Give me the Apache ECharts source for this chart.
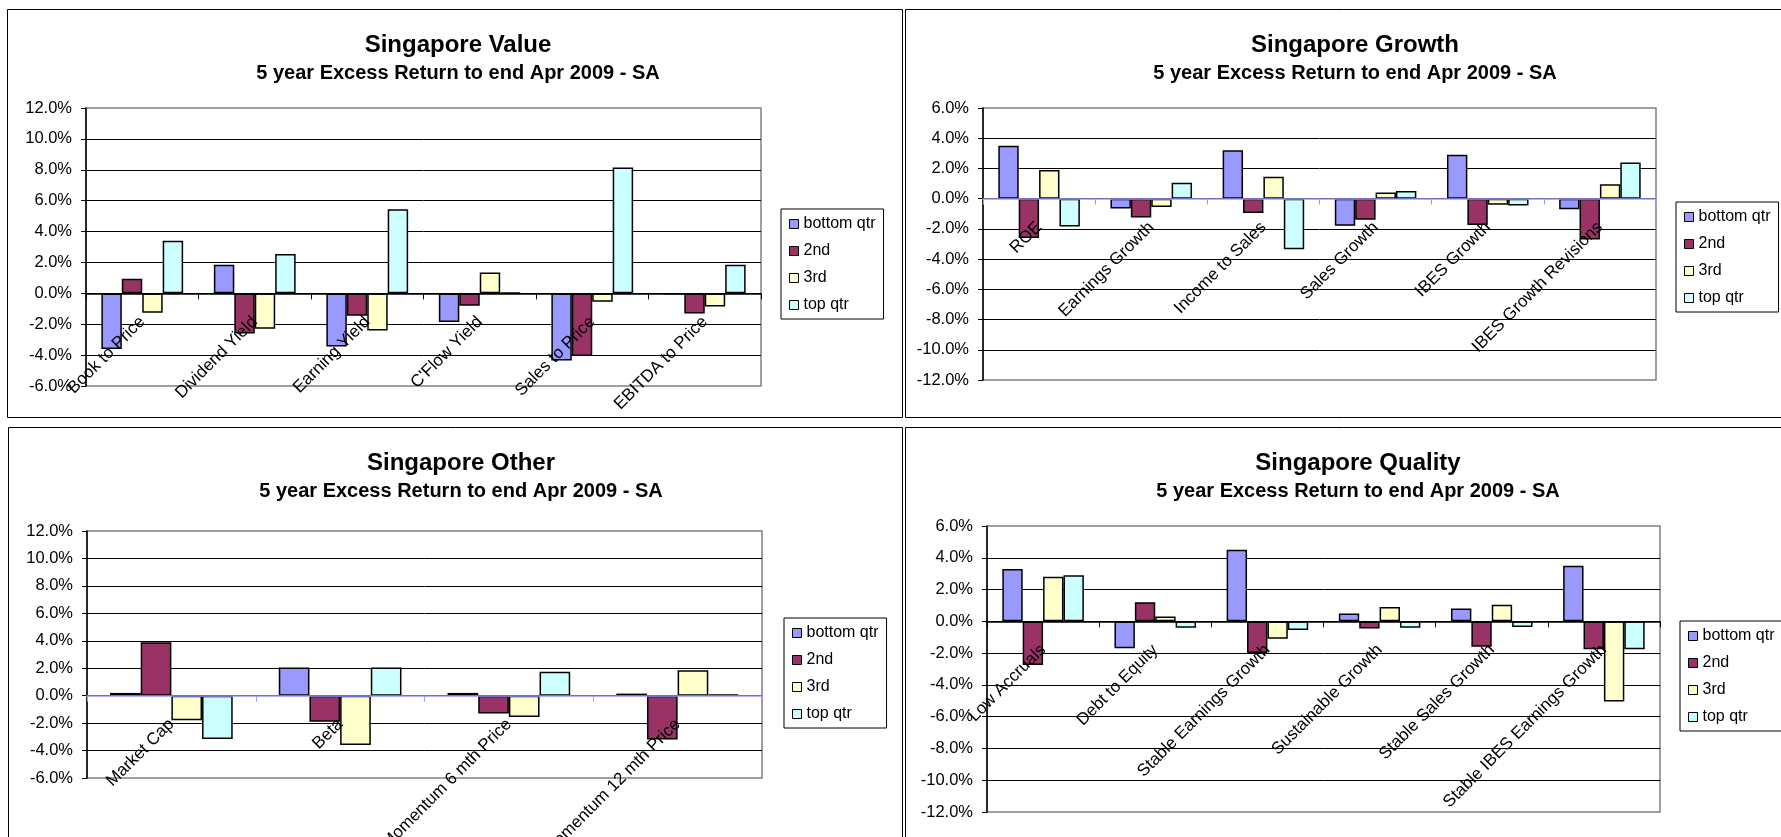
<!DOCTYPE html>
<html>
<head>
<meta charset="utf-8">
<script src="https://cdn.jsdelivr.net/npm/echarts@6/dist/echarts.min.js"></script>
<style>
  html, body { margin: 0; padding: 0; background: #ffffff; }
  #chart { width: 1781px; height: 837px; }
</style>
</head>
<body>
<div id="chart"></div>
<script>
// Quartile series shared by all four panels
const seriesNames = ['bottom qtr', '2nd', '3rd', 'top qtr'];
const seriesColors = ['#9999FF', '#993366', '#FFFFCC', '#CCFFFF'];

// Value factors (excess return, %)
const valueCats = ['Book to Price', 'Dividend Yield', 'Earning Yield', "C'Flow Yield", 'Sales to Price', 'EBITDA to Price'];
const valueBottom = [-3.6, 1.85, -3.45, -1.85, -4.35, -0.05];
const value2nd = [0.95, -2.6, -1.45, -0.8, -4.05, -1.3];
const value3rd = [-1.25, -2.3, -2.4, 1.35, -0.55, -0.85];
const valueTop = [3.4, 2.55, 5.45, 0.05, 8.15, 1.85];

// Growth factors
const growthCats = ['ROE', 'Earnings Growth', 'Income to Sales', 'Sales Growth', 'IBES Growth', 'IBES Growth Revisions'];
const growthBottom = [3.5, -0.65, 3.2, -1.8, 2.9, -0.7];
const growth2nd = [-2.6, -1.25, -0.95, -1.4, -1.75, -2.7];
const growth3rd = [1.9, -0.55, 1.45, 0.4, -0.4, 0.95];
const growthTop = [-1.85, 1.05, -3.35, 0.5, -0.45, 2.4];

// Other factors
const otherCats = ['Market Cap', 'Beta', 'Momentum 6 mth Price', 'Momentum 12 mth Price'];
const otherBottom = [0.2, 2.05, 0.2, 0.15];
const other2nd = [3.9, -1.9, -1.3, -3.2];
const other3rd = [-1.8, -3.6, -1.55, 1.85];
const otherTop = [-3.15, 2.05, 1.75, 0.1];

// Quality factors
const qualityCats = ['Low Accruals', 'Debt to Equity', 'Stable Earnings Growth', 'Sustainable Growth', 'Stable Sales Growth', 'Stable IBES Earnings Growth'];
const qualityBottom = [3.3, -1.7, 4.5, 0.5, 0.8, 3.5];
const quality2nd = [-2.75, 1.2, -2.0, -0.45, -1.6, -1.75];
const quality3rd = [2.8, 0.3, -1.1, 0.9, 1.05, -5.05];
const qualityTop = [2.9, -0.4, -0.55, -0.4, -0.35, -1.75];

const subtitleText = '5 year Excess Return to end Apr 2009 - SA';
const FONT = '"Liberation Sans", Arial, sans-serif';

const panels = [
  {
    title: 'Singapore Value', cats: valueCats,
    values: [valueBottom, value2nd, value3rd, valueTop],
    yMin: -6, yMax: 12, zeroColor: '#000000',
    box: { x: 7, y: 9, w: 895, h: 408 },
    grid: { left: 86, top: 108, width: 675, height: 278 },
    legend: { left: 781, top: 209 },
    titleX: 458, titleTop: 33
  },
  {
    title: 'Singapore Growth', cats: growthCats,
    values: [growthBottom, growth2nd, growth3rd, growthTop],
    yMin: -12, yMax: 6, zeroColor: '#9999FF',
    box: { x: 905, y: 9, w: 900, h: 408 },
    grid: { left: 983, top: 108, width: 673, height: 272 },
    legend: { left: 1676, top: 202 },
    titleX: 1355, titleTop: 33
  },
  {
    title: 'Singapore Other', cats: otherCats,
    values: [otherBottom, other2nd, other3rd, otherTop],
    yMin: -6, yMax: 12, zeroColor: '#9999FF',
    box: { x: 8, y: 427, w: 894, h: 450 },
    grid: { left: 87, top: 531, width: 675, height: 247 },
    legend: { left: 784, top: 618 },
    titleX: 461, titleTop: 451
  },
  {
    title: 'Singapore Quality', cats: qualityCats,
    values: [qualityBottom, quality2nd, quality3rd, qualityTop],
    yMin: -12, yMax: 6, zeroColor: '#000000',
    box: { x: 905, y: 427, w: 900, h: 450 },
    grid: { left: 987, top: 526, width: 673, height: 286 },
    legend: { left: 1680, top: 621 },
    titleX: 1358, titleTop: 451
  }
];

const option = {
  backgroundColor: '#ffffff',
  animation: false,
  textStyle: { fontFamily: FONT },
  title: [], grid: [], xAxis: [], yAxis: [], legend: [], series: [], graphic: []
};

panels.forEach((p, i) => {
  // panel frame
  option.graphic.push({
    type: 'rect', silent: true, z: -10,
    shape: { x: p.box.x + 0.5, y: p.box.y + 0.5, width: p.box.w, height: p.box.h },
    style: { fill: '#ffffff', stroke: '#000000', lineWidth: 1 }
  });

  option.title.push({
    text: p.title, subtext: subtitleText,
    left: p.titleX, top: p.titleTop, padding: 0, textAlign: 'center', itemGap: 6,
    textStyle: { fontFamily: FONT, fontSize: 24, fontWeight: 'bold', color: '#000000' },
    subtextStyle: { fontFamily: FONT, fontSize: 20, fontWeight: 'bold', color: '#000000' }
  });

  option.grid.push({
    left: p.grid.left, top: p.grid.top, width: p.grid.width, height: p.grid.height,
    outerBoundsMode: 'none', containLabel: false,
    show: true, borderColor: '#808080', borderWidth: 1.5, backgroundColor: 'transparent'
  });

  // the category axis sits on the 0% line of the value axis
  const zeroOffset = -(0 - p.yMin) / (p.yMax - p.yMin) * p.grid.height;

  option.xAxis.push({
    type: 'category', gridIndex: i, data: p.cats, z: 3,
    position: 'bottom', offset: zeroOffset,
    axisLine: { show: true, onZero: false, lineStyle: { color: p.zeroColor, width: 1.5 } },
    axisTick: { show: true, length: 6, lineStyle: { color: p.zeroColor, width: 1 } },
    axisLabel: { interval: 0, rotate: 45, margin: 26, fontSize: 17, color: '#000000', fontFamily: FONT },
    splitLine: { show: false }
  });

  option.yAxis.push({
    type: 'value', gridIndex: i, min: p.yMin, max: p.yMax, interval: 2,
    axisLine: { show: true, lineStyle: { color: '#000000', width: 1.5 } },
    axisTick: { show: true, length: 5, lineStyle: { color: '#000000' } },
    axisLabel: {
      margin: 14, fontSize: 16.5, color: '#000000', fontFamily: FONT,
      formatter: v => v.toFixed(1) + '%'
    },
    splitLine: { show: true, showMinLine: false, showMaxLine: false, lineStyle: { color: '#000000', width: 1 } }
  });

  option.legend.push({
    data: seriesNames, orient: 'vertical',
    left: p.legend.left, top: p.legend.top,
    padding: [6, 8, 5, 8], itemGap: 9,
    itemWidth: 9, itemHeight: 9, icon: 'rect',
    itemStyle: { borderColor: '#000000', borderWidth: 1 },
    borderColor: '#000000', borderWidth: 1, backgroundColor: '#ffffff',
    textStyle: { fontFamily: FONT, fontSize: 16, color: '#000000', lineHeight: 18 },
    selectedMode: false
  });

  seriesNames.forEach((name, k) => {
    option.series.push({
      type: 'bar', name: name, xAxisIndex: i, yAxisIndex: i,
      data: p.values[k],
      barGap: '0%', barCategoryGap: '27.3%',
      itemStyle: { color: seriesColors[k], borderColor: '#000000', borderWidth: 1.5 },
      emphasis: { disabled: true }
    });
  });
});

const chart = echarts.init(document.getElementById('chart'), null, { renderer: 'canvas' });
chart.setOption(option);
</script>
</body>
</html>
